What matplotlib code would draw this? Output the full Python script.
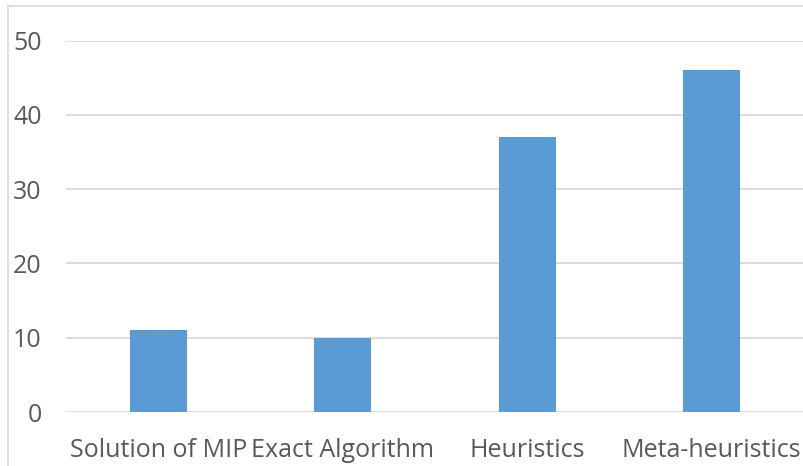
import matplotlib.pyplot as plt
from matplotlib.lines import Line2D

categories = ['Solution of MIP', 'Exact Algorithm', 'Heuristics', 'Meta-heuristics']
values = [11, 10, 37, 46]
yticks = [0, 10, 20, 30, 40, 50]

W, H = 804, 466
fig = plt.figure(figsize=(W / 100, H / 100), dpi=100)
ax = fig.add_axes([66 / W, 1 - 412 / H, (804 - 66) / W, (412 - 40.5) / H])

x = range(len(categories))
ax.bar(x, values, width=0.31, color='#5B9BD5', zorder=3)
ax.set_xlim(-0.5, len(categories) - 0.5)
ax.set_ylim(0, 50)
ax.set_yticks(yticks)
ax.set_xticks(list(x))
ax.set_xticklabels(categories)
ax.grid(axis='y', color='#D9D9D9', linewidth=1.3, zorder=0)
for s in ax.spines.values():
    s.set_visible(False)
ax.tick_params(length=0, labelsize=18, labelcolor='#595959')
ax.tick_params(axis='x', pad=18.5)
ax.tick_params(axis='y', pad=17.5)
for lbl in ax.get_xticklabels() + ax.get_yticklabels():
    lbl.set_family('Open Sans')

# chart border (partially cut off)
fig.add_artist(Line2D([8 / W, 8 / W], [0, 1 - 6 / H], color='#D9D9D9', lw=1.2))
fig.add_artist(Line2D([8 / W, 1], [1 - 6 / H, 1 - 6 / H], color='#D9D9D9', lw=1.2))

fig.savefig('out.png', dpi=100)
